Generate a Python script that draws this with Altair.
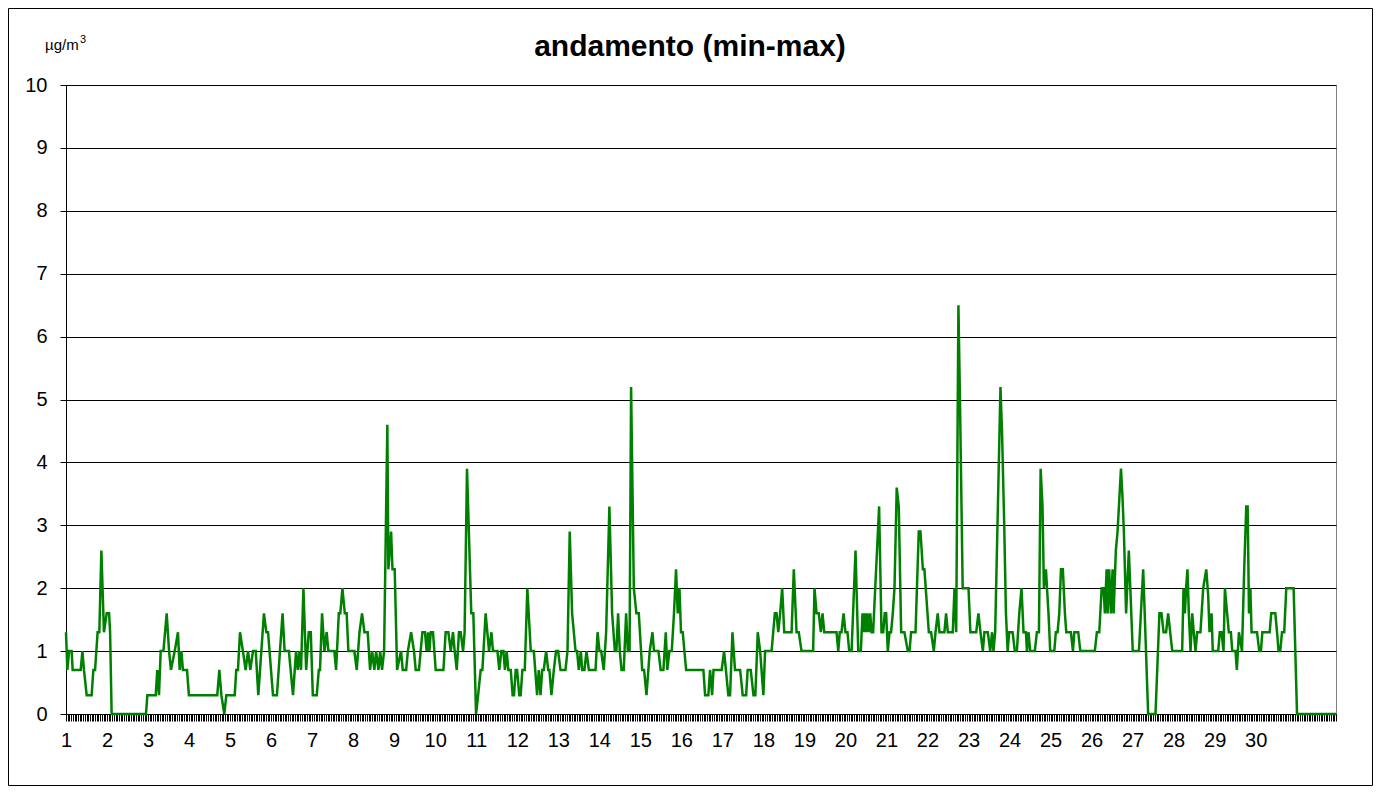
import altair as alt
import pandas as pd

TITLE = "andamento (min-max)"
UNIT_BASE = "µg/m"
UNIT_EXP = "3"
Y_TICKS = list(range(0, 11))
N_HOURS = 744          # hourly categories on the x axis
N_DAYS_LABELLED = 30

# readings: hour index (0 = day 1, 00h) and value in µg/m³
HOURS = [
    0, 0.8, 1.8, 3.3, 3.9, 8.6, 9.6, 10.5, 12.1, 15.0, 16.0, 17.0, 18.5, 19.5, 20.7, 22.2,
    23.8, 25.2, 25.8, 26.7, 46.8, 47.6, 52.5, 53.4, 54.4, 55.4, 57.0, 58.9, 60.3, 61.4, 63.6,
    65.5, 66.5, 67.5, 68.4, 70.8, 71.9, 88.5, 89.7, 90.9, 92.6, 93.8, 98.7, 99.6, 100.6, 101.8,
    103.5, 105.1, 106.5, 107.8, 109.4, 111.0, 112.5, 115.8, 117.2, 118.2, 121.1, 123.4, 126.7,
    127.9, 130.4, 132.8,
    134.6, 135.6, 136.6, 137.5, 138.9, 140.5, 142.0, 143.2, 144.4, 146.7, 147.9, 148.6, 149.8,
    151.2, 152.5, 153.5, 157.0, 158.0, 159.6, 160.5, 161.7, 163.1, 164.2, 165.2, 168.7, 170.1,
    171.7, 173.2, 174.6, 176.5, 177.9, 179.1, 180.4, 181.4, 182.8, 183.8, 184.9, 186.1, 188.0,
    188.6, 190.2, 191.0, 192.3, 193.7, 196.0, 197.0, 199.0, 200.0, 201.9,
    203.6, 204.6, 206.5, 208.5, 210.0, 211.0, 211.8, 212.6, 213.4, 214.7, 216.3, 220.8, 222.1,
    223.7, 225.1, 226.4, 227.4, 228.6, 229.9, 230.9, 232.3, 233.2, 234.6, 237.1, 238.3, 239.9,
    241.1, 242.6, 243.6, 245.5, 247.5, 248.9, 249.8, 252.4, 253.5, 254.7, 255.9, 256.8, 257.8,
    258.8, 260.2, 261.3, 262.1, 263.1, 263.9, 265.2, 266.0, 267.0, 268.4, 269.9, 271.9,
    272.7, 273.7, 275.6, 276.6, 277.6, 278.6, 279.5, 280.9, 282.1, 282.8, 284.0, 285.4, 286.7,
    287.9, 289.3, 292.2, 293.4, 294.7, 296.1, 298.1, 299.0, 300.0, 301.2, 302.0, 303.3, 304.5,
    305.9, 309.8, 311.0, 312.1, 313.1, 314.6, 316.0, 317.9, 319.5, 321.1, 322.0, 323.0, 324.0,
    325.0, 326.3, 327.7, 328.7, 329.7, 330.6, 332.2, 333.7, 335.1, 337.1, 338.2, 339.6,
    341.5, 343.1, 344.0, 346.6, 347.9, 349.5, 350.9, 351.8, 353.0, 354.4, 355.7, 356.9, 357.9,
    358.9, 359.8, 360.8, 362.8, 372.9, 373.9, 375.8, 376.8, 378.0, 378.8, 383.6, 385.0, 387.5,
    388.5, 389.9, 391.4, 394.4, 395.9, 397.9, 398.8, 400.6, 402.2, 403.3, 404.7, 406.1, 408.0,
    409.0,
    410.8, 412.8, 414.7, 415.7, 416.7, 417.8, 419.0, 420.2, 424.5, 425.8, 427.4, 428.7, 430.3,
    437.1, 437.9, 439.1, 440.4, 441.6, 442.6, 443.6, 450.8, 451.8, 452.7, 453.7, 454.9, 456.0,
    457.2, 458.2, 459.6, 461.9, 463.5, 465.0, 466.0, 466.8, 467.4, 468.1, 468.9, 469.7, 470.5,
    471.3, 472.2, 475.7, 477.1, 478.1, 479.0,
    479.8, 480.8, 481.8, 482.7, 483.7, 484.7, 486.0, 487.2, 488.6, 490.5, 492.5, 493.5, 494.4,
    497.0, 498.9, 499.9, 501.3, 502.2, 504.8, 506.1, 507.7, 508.7, 510.0, 511.0, 513.9, 514.9,
    515.9, 518.8, 519.8, 520.8, 522.1, 523.0, 524.6, 526.0, 528.0, 529.1, 532.5, 533.8, 535.0,
    536.4, 537.3, 539.3, 540.7, 541.8, 542.6, 543.6, 546.7, 547.6,
    548.9, 549.9, 550.9, 551.8, 553.8, 555.1, 556.3, 557.7, 559.0, 560.2, 561.6, 562.2, 563.1,
    564.1, 566.8, 568.0, 569.2, 570.2, 571.3, 572.1, 573.3, 574.8, 575.8, 578.2, 579.1, 580.1,
    581.1, 582.1, 583.2, 584.4, 585.2, 587.9, 589.1, 589.9, 592.2, 593.4, 601.9, 603.1, 604.5,
    605.9, 607.0, 607.8, 608.8, 609.4, 610.3, 611.3, 612.3, 612.9, 614.2, 615.2, 617.2,
    618.0, 618.9, 619.5, 620.2, 621.8, 624.1, 627.7, 630.2, 633.1, 637.4, 639.7, 640.9, 642.1,
    643.6, 644.8, 647.2, 653.0, 653.8, 654.6, 655.3, 656.1, 656.9, 657.9, 658.9, 659.8, 660.8,
    661.8, 663.7, 665.3, 667.1, 668.2, 669.0, 670.2, 670.9, 674.1, 675.0, 676.0, 677.2, 678.0,
    679.3, 680.3, 681.5, 682.3, 684.2, 685.0, 686.2,
    688.0, 689.3, 690.5, 691.3, 692.1, 692.9, 693.6, 696.8, 698.1, 699.1, 699.9, 704.2, 705.1,
    707.5, 708.5, 709.4, 710.4, 711.4, 712.7, 713.9, 718.2, 720.2, 743,
]
VALUES = [
    1.3, 0.7, 1.0, 1.0, 0.7, 0.7, 1.0, 0.7, 0.3, 0.3, 0.7, 0.7, 1.3, 1.3, 2.6, 1.3,
    1.6, 1.6, 1.3, 0.0, 0.0, 0.3, 0.3, 0.7, 0.3, 1.0, 1.0, 1.6, 1.0, 0.7, 1.0,
    1.3, 0.7, 1.0, 0.7, 0.7, 0.3, 0.3, 0.7, 0.3, 0.0, 0.3, 0.3, 0.7, 0.7, 1.3,
    1.0, 0.7, 1.0, 0.7, 1.0, 1.0, 0.3, 1.6, 1.3, 1.3, 0.3, 0.3, 1.6,
    1.0, 1.0, 0.3,
    1.0, 0.7, 1.0, 0.7, 2.0, 0.7, 1.3, 1.3, 0.3, 0.3, 0.7, 0.7, 1.6,
    1.0, 1.3, 1.0, 1.0, 0.7, 1.6, 1.6, 2.0, 1.6, 1.6, 1.0, 1.0, 0.7,
    1.3, 1.6, 1.3, 1.3, 0.7, 1.0, 0.7, 1.0, 0.7, 1.0, 0.7, 1.0, 4.6,
    2.3, 2.9, 2.3, 2.3, 0.7, 1.0, 0.7, 0.7, 1.0, 1.3,
    1.0, 0.7, 0.7, 1.3, 1.3, 1.0, 1.3, 1.0, 1.3, 1.3, 0.7, 0.7, 1.3,
    1.3, 1.0, 1.3, 1.0, 0.7, 1.3, 1.3, 1.0, 1.3, 3.9, 1.6, 1.6, 0.0,
    0.3, 0.7, 0.7, 1.6, 1.0, 1.3, 1.0, 1.0, 0.7, 1.0, 1.0, 0.7, 1.0,
    0.7, 0.7, 0.3, 0.3, 0.7, 0.7, 0.3, 0.3, 0.7, 0.7, 2.0, 1.0,
    1.0, 1.0, 0.3, 0.7, 0.3, 0.7, 0.7, 1.0, 0.7, 0.7, 0.3, 0.7, 1.0,
    1.0, 0.7, 0.7, 1.0, 2.9, 1.6, 1.0, 1.0, 0.7, 1.0, 0.7, 0.7, 1.0,
    0.7, 0.7, 1.3, 1.0, 1.0, 0.7, 1.3, 3.3, 1.6, 1.0, 1.0, 1.6, 1.0,
    0.7, 0.7, 1.6, 1.0, 1.0, 5.2, 2.0, 1.6, 1.6, 0.7, 0.7, 0.3,
    1.0, 1.3, 1.0, 1.0, 0.7, 0.7, 1.3, 0.7, 1.0, 1.0, 1.6, 2.3, 1.6,
    2.0, 1.3, 1.3, 0.7, 0.7, 0.3, 0.3, 0.7, 0.3, 0.7, 0.7, 1.0, 0.3,
    0.3, 1.3, 0.7, 0.7, 0.3, 0.3, 0.7, 0.7, 0.3, 0.3, 1.3, 1.0, 0.3,
    1.0,
    1.0, 1.0, 1.6, 1.6, 1.3, 1.6, 2.0, 1.3, 1.3, 2.3, 1.3, 1.3, 1.0,
    1.0, 2.0, 1.6, 1.6, 1.3, 1.6, 1.3, 1.3, 1.0, 1.3, 1.3, 1.6, 1.3,
    1.3, 1.0, 1.0, 2.6, 1.0, 1.0, 1.6, 1.3, 1.6, 1.3, 1.6, 1.3, 1.6,
    1.3, 1.3, 3.3, 1.3, 1.3, 1.6,
    1.6, 1.0, 1.3, 1.3, 1.6, 2.0, 3.6, 3.3, 1.3, 1.3, 1.0, 1.0, 1.3,
    1.3, 2.9, 2.9, 2.3, 2.3, 1.3, 1.3, 1.0, 1.3, 1.6, 1.3, 1.3, 1.6,
    1.3, 1.3, 2.0, 1.3, 6.5, 5.0, 2.0, 2.0, 2.0, 1.3, 1.3, 1.6, 1.3,
    1.0, 1.3, 1.3, 1.0, 1.3, 1.0, 1.3, 5.2, 4.5,
    3.0, 1.6, 1.0, 1.3, 1.3, 1.0, 1.0, 1.6, 2.0, 1.3, 1.3, 1.0, 1.3,
    1.0, 1.0, 1.3, 1.3, 3.9, 3.3, 2.0, 2.3, 1.6, 1.0, 1.0, 1.3, 1.3,
    1.6, 2.3, 2.3, 1.6, 1.3, 1.3, 1.0, 1.3, 1.3, 1.0, 1.0, 1.3, 1.3,
    2.0, 2.0, 1.6, 2.3, 1.6, 2.3, 1.6, 2.3, 1.6, 2.6, 2.9, 3.9,
    3.5, 2.9, 2.3, 1.6, 2.6, 1.0, 1.0, 2.3, 0.0, 0.0, 1.6, 1.6, 1.3,
    1.3, 1.6, 1.0, 1.0, 2.0, 1.6, 2.0, 2.3, 1.6, 1.0, 1.6, 1.3, 1.0,
    1.3, 1.3, 2.0, 2.3, 1.9, 1.3, 1.6, 1.0, 1.0, 1.3, 1.3, 1.0, 2.0,
    1.6, 1.3, 1.3, 1.0, 1.0, 0.7, 1.3,
    1.0, 2.3, 3.3, 3.3, 1.6, 2.0, 1.3, 1.3, 1.0, 1.0, 1.3, 1.3, 1.6,
    1.6, 1.3, 1.0, 1.0, 1.3, 1.3, 2.0, 2.0, 0.0, 0.0,
]

df = pd.DataFrame({"h": HOURS, "v": VALUES})

W, H = 1270, 629
PAD = {"left": 58, "top": 77, "right": 37, "bottom": 72}
FONT = "Liberation Sans"

label_expr = (
    f"(datum.value % 24 === 0 && datum.value < {24 * N_DAYS_LABELLED}) "
    "? format(datum.value / 24 + 1, 'd') : ''"
)

line = alt.Chart(df).mark_line(color="#008000", strokeWidth=2.5).encode(
    x=alt.X(
        "h:Q",
        scale=alt.Scale(domain=[0, N_HOURS - 1], nice=False, zero=False),
        axis=alt.Axis(
            values=list(range(N_HOURS)),
            labelExpr=label_expr,
            labelOverlap=False,
            labelFlush=False,
            grid=False,
            title=None,
            tickSize=7,
            tickColor="#000000",
            tickWidth=1,
            domainColor="#000000",
            labelFont=FONT,
            labelFontSize=20,
            labelColor="#000000",
            labelPadding=9,
        ),
    ),
    y=alt.Y(
        "v:Q",
        scale=alt.Scale(domain=[0, 10], nice=False),
        axis=alt.Axis(
            values=Y_TICKS,
            grid=True,
            gridColor="#000000",
            gridWidth=1,
            title=None,
            tickSize=6,
            tickColor="#000000",
            domainColor="#000000",
            labelFont=FONT,
            labelFontSize=20,
            labelColor="#000000",
            labelPadding=13,
        ),
    ),
)

title_text = alt.Chart(pd.DataFrame({"t": [TITLE]})).mark_text(
    font=FONT, fontSize=30, fontWeight="bold", align="center", baseline="middle", color="#000000"
).encode(x=alt.value(624), y=alt.value(-38), text="t:N")

unit_text = alt.Chart(pd.DataFrame({"t": [UNIT_BASE]})).mark_text(
    font=FONT, fontSize=15, align="left", baseline="alphabetic", color="#000000"
).encode(x=alt.value(-21), y=alt.value(-35), text="t:N")

unit_exp = alt.Chart(pd.DataFrame({"t": [UNIT_EXP]})).mark_text(
    font=FONT, fontSize=11, align="left", baseline="alphabetic", color="#000000"
).encode(x=alt.value(14), y=alt.value(-42), text="t:N")

frame = alt.Chart(pd.DataFrame({"a": [0]})).mark_rect(
    fillOpacity=0, stroke="#000000", strokeWidth=1
).encode(
    x=alt.value(-PAD["left"] + 0.5),
    x2=alt.value(W + PAD["right"] - 0.5),
    y=alt.value(-PAD["top"] + 0.5),
    y2=alt.value(H + PAD["bottom"] - 0.5),
)

chart = alt.layer(line, title_text, unit_text, unit_exp, frame).properties(
    width=W,
    height=H,
    autosize=alt.AutoSizeParams(type="none"),
    padding=PAD,
    background="#ffffff",
).configure_view(stroke="#808080", strokeWidth=1)

chart.save("out.html", embed_options={"renderer": "svg", "actions": False})
